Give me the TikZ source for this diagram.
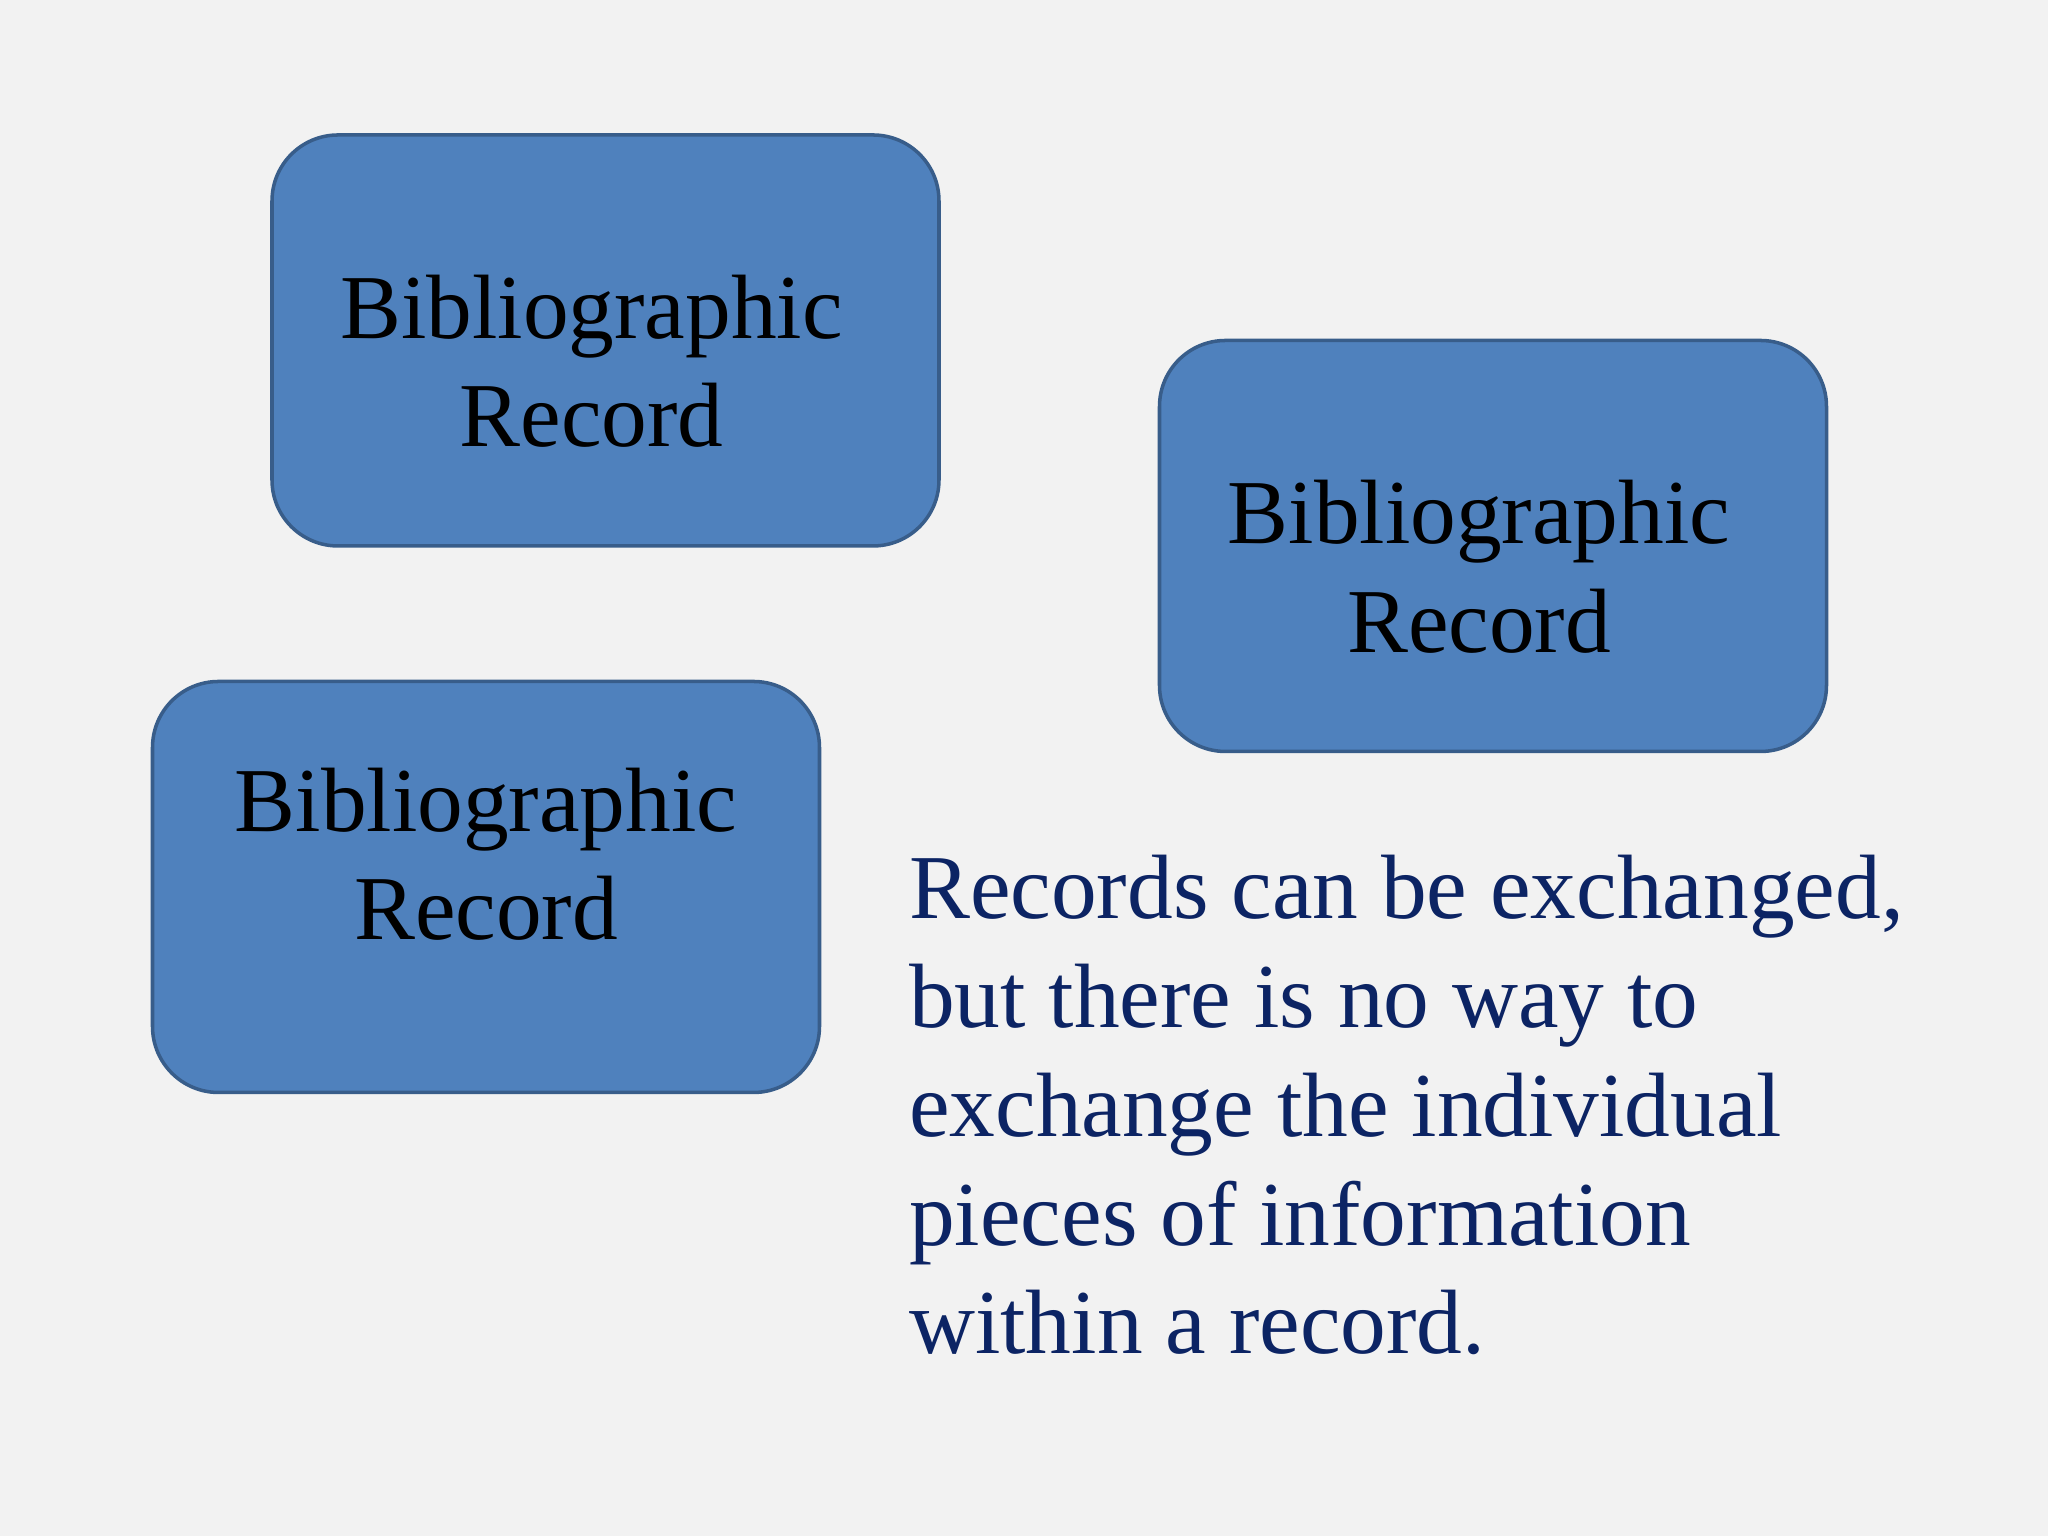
\documentclass[tikz,border=0pt]{standalone}
\usepackage{fontspec}
\setmainfont{Liberation Serif}
\definecolor{slidebg}{RGB}{242,242,242}
\definecolor{recfill}{RGB}{79,129,189}
\definecolor{recline}{RGB}{56,93,138}
\definecolor{notenavy}{RGB}{12,36,100}
\tikzset{
  recbox/.style={draw=recline,fill=recfill,line width=1pt,rounded corners=0.66cm,
    minimum width=6.67cm,minimum height=4.11cm,align=center,inner sep=0pt,
    font=\fontsize{26pt}{31pt}\selectfont,text=black},
  notetext/.style={anchor=base west,align=left,inner sep=0pt,text=notenavy,
    font=\fontsize{26pt}{31pt}\selectfont}
}
\begin{document}
\begin{tikzpicture}
      \fill[slidebg] (0,0) rectangle (20.48,15.36);
      \useasboundingbox (0,0) rectangle (20.48,15.36);
      \node[recbox,text height=2.23cm,text depth=0.1cm] (recA) at (6.055,11.955)
        {Bibliographic\hspace*{0.28cm}\\Record\hspace*{0.28cm}};
      \node[recbox,text height=2.23cm,text depth=0.1cm] (recB) at (14.93,9.9)
        {Bibliographic\hspace*{0.28cm}\\Record\hspace*{0.28cm}};
      \node[recbox,text height=1.16cm,text depth=0.1cm] (recC) at (4.86,6.49)
        {Bibliographic\\Record};
      \node[notetext] (note) at (9.085,1.82) {Records can be exchanged,\\%
        but there is no way to\\exchange the individual\\%
        pieces of information\\within a record.};
    \end{tikzpicture}
\end{document}
